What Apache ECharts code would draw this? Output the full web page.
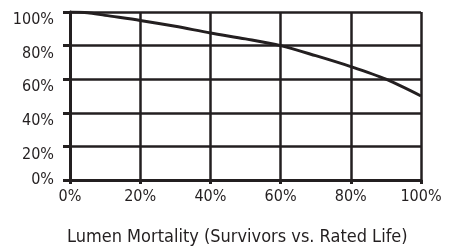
<!DOCTYPE html>
<html>
<head>
<meta charset="utf-8">
<script src="https://cdn.jsdelivr.net/npm/echarts@6/dist/echarts.min.js"></script>
<style>
  html, body { margin: 0; padding: 0; background: #fff; }
  #main { width: 454px; height: 247px; }
</style>
</head>
<body>
<div id="main"></div>
<script>
// rated life (%) vs survivors (%)
var lifePct = [0, 5, 10, 20, 30, 40, 50, 60, 70, 80, 90, 100];
var survivors = [100, 99.6, 98, 95, 91.5, 87.5, 84, 80, 74, 67.5, 60, 50];
var tickLabels = ['0%', '20%', '40%', '60%', '80%', '100%'];

var ink = '#231f20';
var font = '"DejaVu Sans Condensed", "Liberation Sans Narrow", sans-serif';

var myChart = echarts.init(document.getElementById('main'));

var points = lifePct.map(function (x, i) { return [x, survivors[i]]; });

var option = {
    animation: false,
    title: {
        text: 'Lumen Mortality (Survivors vs. Rated Life)',
        left: 67,
        top: 228,
        padding: 0,
        textStyle: { fontFamily: font, fontSize: 18, fontWeight: 'normal', color: ink }
    },
    grid: { left: 70, right: 33, top: 12, bottom: 67 },
    xAxis: {
        type: 'value', min: 0, max: 100, interval: 20,
        axisLine: { lineStyle: { color: ink, width: 3 } },
        axisTick: { show: true, length: 4, lineStyle: { color: ink, width: 3 } },
        splitLine: { show: true, lineStyle: { color: ink, width: 2.5 } },
        axisLabel: {
            margin: 9, color: ink, fontFamily: font, fontSize: 16,
            formatter: function (v) { return tickLabels[v / 20]; }
        }
    },
    yAxis: {
        type: 'value', min: 0, max: 100, interval: 20,
        axisLine: { show: true, lineStyle: { color: ink, width: 3 } },
        axisTick: { show: true, length: 7, lineStyle: { color: ink, width: 3 } },
        splitLine: { show: true, lineStyle: { color: ink, width: 2.5 } },
        axisLabel: {
            margin: 16, color: ink, fontFamily: font, fontSize: 16,
            verticalAlign: 'top', lineHeight: 16,
            verticalAlignMinLabel: 'middle',
            formatter: function (v) { return tickLabels[v / 20]; }
        }
    },
    series: [
        {
            type: 'line',
            data: points,
            smooth: 0.3,
            showSymbol: false,
            lineStyle: { color: ink, width: 3 }
        }
    ]
};

myChart.setOption(option);
</script>
</body>
</html>
